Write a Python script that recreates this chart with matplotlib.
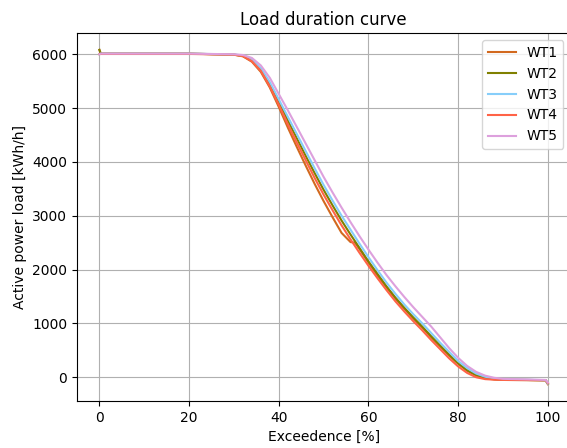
import matplotlib
matplotlib.use("Agg")
import matplotlib.pyplot as plt

# exceedence grid [%]
exceedence = [0, 0.3, 10, 20, 30, 32, 34, 36, 38, 40, 42, 44, 46, 48, 50, 52, 54, 56,
              57, 58, 60, 62, 64, 66, 68, 70, 72, 74, 76, 78, 80, 82, 84, 86, 88, 90,
              95, 99.5, 100]

# active power load [kWh/h] per turbine
wt1 = [6080, 6010, 6010, 6010, 5990, 5960, 5860, 5670, 5380, 5020, 4640, 4280, 3930,
       3590, 3270, 2970, 2680, 2510, 2500, 2380, 2130, 1890, 1670, 1460, 1270, 1090,
       920, 740, 570, 400, 250, 120, 30, -20, -40, -50, -55, -60, -130]
wt2 = [6080, 6010, 6010, 6010, 5992, 5970, 5885, 5715, 5440, 5110, 4770, 4440, 4110,
       3790, 3480, 3190, 2910, 2650, 2525, 2400, 2150, 1920, 1690, 1480, 1290, 1110,
       940, 760, 590, 420, 260, 130, 40, -10, -35, -45, -50, -55, -120]
wt3 = [6000, 6010, 6010, 6010, 5995, 5975, 5900, 5740, 5480, 5160, 4840, 4520, 4200,
       3880, 3570, 3280, 3000, 2740, 2610, 2480, 2230, 1990, 1760, 1550, 1350, 1170,
       1000, 820, 640, 470, 300, 170, 70, 10, -25, -40, -45, -55, -120]
wt4 = [6000, 6005, 6005, 6005, 5990, 5965, 5870, 5690, 5400, 5060, 4700, 4360, 4030,
       3700, 3390, 3100, 2820, 2560, 2435, 2310, 2070, 1840, 1620, 1410, 1220, 1040,
       870, 690, 520, 350, 200, 80, 0, -35, -45, -50, -50, -55, -110]
wt5 = [6000, 6010, 6010, 6010, 5998, 5985, 5930, 5790, 5560, 5260, 4960, 4650, 4340,
       4030, 3720, 3430, 3150, 2880, 2750, 2620, 2370, 2130, 1900, 1690, 1490, 1300,
       1120, 940, 740, 540, 360, 210, 100, 30, -10, -30, -40, -50, -100]

series = {"WT1": wt1, "WT2": wt2, "WT3": wt3, "WT4": wt4, "WT5": wt5}
colors = ["#D2691E", "#808000", "#87CEFA", "#FF6347", "#DDA0DD"]

fig = plt.figure(figsize=(5.67, 4.48), dpi=100)
ax = fig.add_axes([0.1358, 0.105, 0.87, 0.821])

for (name, vals), c in zip(series.items(), colors):
    ax.plot(exceedence, vals, color=c, linewidth=1.5, label=name)

ax.set_title("Load duration curve")
ax.set_xlabel("Exceedence [%]")
ax.set_ylabel("Active power load [kWh/h]")
ax.set_xticks([0, 20, 40, 60, 80, 100])
ax.grid(True)
ax.legend(loc="upper right")

fig.savefig("out.png", dpi=100)
